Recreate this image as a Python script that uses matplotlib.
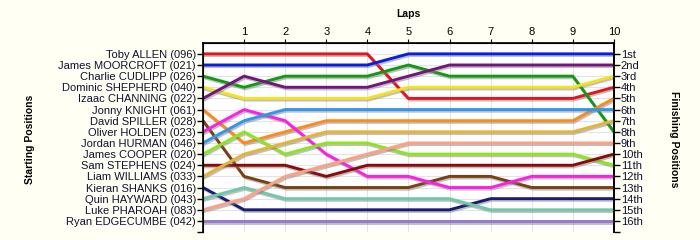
import matplotlib
matplotlib.use("Agg")
import matplotlib.pyplot as plt
import matplotlib.patheffects as pe

plt.rcParams['font.family'] = ['Liberation Sans', 'DejaVu Sans']

# Starting order (grid positions 1..16)
drivers = [
    "Toby ALLEN (096)", "James MOORCROFT (021)", "Charlie CUDLIPP (026)",
    "Dominic SHEPHERD (040)", "Izaac CHANNING (022)", "Jonny KNIGHT (061)",
    "David SPILLER (028)", "Oliver HOLDEN (023)", "Jordan HURMAN (046)",
    "James COOPER (020)", "Sam STEPHENS (024)", "Liam WILLIAMS (033)",
    "Kieran SHANKS (016)", "Quin HAYWARD (043)", "Luke PHAROAH (083)",
    "Ryan EDGECUMBE (042)",
]

colors = [
    "#e8141c", "#0a1ee0", "#129a12", "#f4e21a", "#76147e", "#ff8a1a",
    "#7a4010", "#ff1ee6", "#3296f0", "#8ce61e", "#8c0a0a", "#e6b432",
    "#1a1a78", "#6ec8aa", "#ffa082", "#9678d2",
]

laps = list(range(0, 11))

# position of each driver at the end of each lap (lap 0 = grid)
positions = [
    [1, 1, 1, 1, 1, 5, 5, 5, 5, 5, 4],
    [2, 2, 2, 2, 2, 1, 1, 1, 1, 1, 1],
    [3, 4, 3, 3, 3, 2, 3, 3, 3, 3, 8],
    [4, 5, 5, 5, 5, 4, 4, 4, 4, 4, 3],
    [5, 3, 4, 4, 4, 3, 2, 2, 2, 2, 2],
    [6, 9, 8, 7, 7, 7, 7, 7, 7, 7, 5],
    [7, 12, 13, 13, 13, 13, 12, 12, 13, 13, 13],
    [8, 6, 7, 10, 12, 12, 13, 13, 12, 12, 12],
    [9, 7, 6, 6, 6, 6, 6, 6, 6, 6, 6],
    [10, 8, 10, 9, 9, 10, 10, 10, 10, 10, 11],
    [11, 11, 11, 12, 11, 11, 11, 11, 11, 11, 10],
    [12, 10, 9, 8, 8, 8, 8, 8, 8, 8, 7],
    [13, 15, 15, 15, 15, 15, 15, 14, 14, 14, 14],
    [14, 13, 14, 14, 14, 14, 14, 15, 15, 15, 15],
    [15, 14, 12, 11, 10, 9, 9, 9, 9, 9, 9],
    [16, 16, 16, 16, 16, 16, 16, 16, 16, 16, 16],
]

finish_labels = ["1st", "2nd", "3rd"] + ["%dth" % i for i in range(4, 17)]

bg = "#fffff4"
fig = plt.figure(figsize=(7, 2.4), dpi=100, facecolor=bg)
ax = fig.add_axes([0.29, 0.033, 0.587, 0.789])
ax.set_facecolor("#ffffff")

shadow = [pe.SimpleLineShadow(offset=(0.8, -1.2), shadow_color="#808080", alpha=0.5),
          pe.Normal()]
for pos, col in zip(positions, colors):
    ax.plot(laps, pos, color=col, lw=2.1, solid_joinstyle="round",
            path_effects=shadow, zorder=3)

ax.set_xlim(0, 10)
ax.set_ylim(17, 0)

# grid
for x in laps[1:]:
    ax.axvline(x, color="#e4e4e4", lw=0.8, zorder=1)
for y in range(1, 17):
    ax.axhline(y, color="#e4e4e4", lw=0.8, zorder=1)

ax.spines["bottom"].set_visible(False)
for s in ["top", "left", "right"]:
    ax.spines[s].set_linewidth(1.2)

ax.xaxis.tick_top()
ax.set_xticks(laps[1:])
ax.set_xticklabels([str(l) for l in laps[1:]], fontsize=8)
ax.tick_params(axis="x", length=3, pad=1)

ticks = list(range(1, 18))
ax.set_yticks(ticks)
ax.set_yticklabels(drivers + [""], fontsize=8, color="#101030")
ax.tick_params(axis="y", length=4, width=1, pad=1)

ax2 = ax.twinx()
ax2.set_ylim(17, 0)
ax2.set_yticks(ticks)
ax2.set_yticklabels(finish_labels + [""], fontsize=8, color="#101030")
ax2.tick_params(axis="y", length=4, width=1, pad=1)
ax2.spines["bottom"].set_visible(False)
ax2.spines["right"].set_linewidth(1.2)

fig.text(0.583, 0.94, "Laps", ha="center", va="center", fontsize=7.5, fontweight="bold")
fig.text(0.043, 0.42, "Starting Positions", ha="center", va="center",
         rotation=90, fontsize=7.5, fontweight="bold")
fig.text(0.963, 0.42, "Finishing Positions", ha="center", va="center",
         rotation=-90, fontsize=7.5, fontweight="bold")

fig.savefig("out.png", dpi=100, facecolor=bg)
